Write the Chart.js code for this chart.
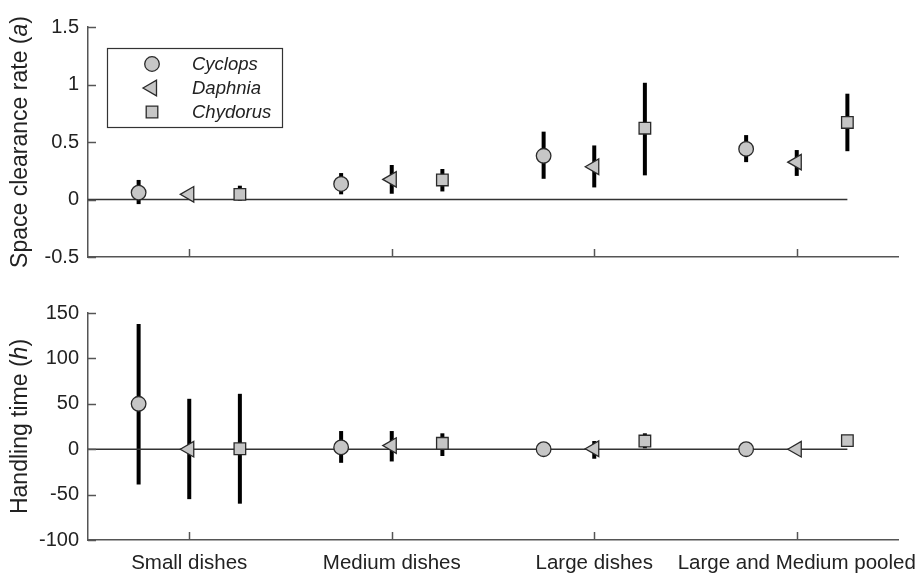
<!DOCTYPE html>
<html><head><meta charset="utf-8">
<script src="https://cdn.jsdelivr.net/npm/chart.js@4/dist/chart.umd.min.js"></script>
<style>
html,body{margin:0;padding:0;background:#fff;}
#wrap{position:relative;width:918px;height:573px;overflow:hidden;}
#c1{position:absolute;left:0;top:0;}
#c2{position:absolute;left:0;top:280px;}
</style></head><body>
<div id="wrap"><canvas id="c1" width="918" height="280"></canvas><canvas id="c2" width="918" height="293"></canvas></div>
<script>
// ---- data ----
const categories = ['Small dishes', 'Medium dishes', 'Large dishes', 'Large and Medium pooled'];
const species = ['Cyclops', 'Daphnia', 'Chydorus'];
const aTicks = [-0.5, 0, 0.5, 1, 1.5];
const hTicks = [-100, -50, 0, 50, 100, 150];

// Space clearance rate (a): estimate, lower, upper
const aCyclops      = [0.06, 0.135, 0.38, 0.44];
const aCyclopsLow   = [-0.04, 0.045, 0.18, 0.325];
const aCyclopsHigh  = [0.17, 0.23, 0.59, 0.56];
const aDaphnia      = [0.045, 0.175, 0.285, 0.325];
const aDaphniaLow   = [0.035, 0.05, 0.105, 0.205];
const aDaphniaHigh  = [0.055, 0.30, 0.47, 0.43];
const aChydorus     = [0.045, 0.17, 0.62, 0.67];
const aChydorusLow  = [-0.01, 0.07, 0.21, 0.42];
const aChydorusHigh = [0.12, 0.265, 1.015, 0.92];

// Handling time (h): estimate, lower, upper
const hCyclops      = [50, 2, 0, 0];
const hCyclopsLow   = [-39, -15, -2, -1];
const hCyclopsHigh  = [138, 20, 2, 1];
const hDaphnia      = [0, 4, 0.5, 0];
const hDaphniaLow   = [-55, -13.5, -10.5, -1];
const hDaphniaHigh  = [55.5, 20, 9, 1];
const hChydorus     = [0.5, 6.5, 9, 9.5];
const hChydorusLow  = [-60, -7.5, 1, 5];
const hChydorusHigh = [61, 17.5, 17.5, 14];

// ---- styling ----
const FONT = "'Liberation Sans', Arial, Helvetica, sans-serif";
const offsets = [-0.25, 0, 0.25];
const markerStyles = [
  {pointStyle: 'circle', radius: 7.3, rotation: 0},
  {pointStyle: 'triangle', radius: 9, rotation: 270},
  {pointStyle: 'rect', radius: 8.2, rotation: 0}
];
const FILL = '#c6c6c6', EDGE = '#2a2a2a', AXIS = '#555555';

function buildDatasets(series) {
  const ds = series.map((s, k) => ({
    type: 'scatter',
    label: species[k],
    data: categories.map((c, i) => ({x: i + 1 + offsets[k], y: s.v[i], lo: s.lo[i], hi: s.hi[i]})),
    pointStyle: markerStyles[k].pointStyle,
    pointRadius: markerStyles[k].radius,
    pointRotation: markerStyles[k].rotation,
    pointBackgroundColor: FILL,
    pointBorderColor: EDGE,
    pointBorderWidth: 1.3,
    pointHoverRadius: markerStyles[k].radius,
    order: 1
  }));
  ds.push({
    type: 'line', label: 'zero',
    data: [{x: 0.5, y: 0}, {x: 4 + offsets[2], y: 0}],
    borderColor: '#333', borderWidth: 1.5, pointRadius: 0, order: 10, isZero: true
  });
  return ds;
}

const errorBars = {
  id: 'errorBars',
  beforeDatasetsDraw(chart) {
    const ctx = chart.ctx, ys = chart.scales.y;
    ctx.save();
    ctx.strokeStyle = '#000'; ctx.lineWidth = 4; ctx.lineCap = 'butt';
    chart.data.datasets.forEach((d, di) => {
      if (d.isZero) return;
      const meta = chart.getDatasetMeta(di);
      meta.data.forEach((el, i) => {
        const r = d.data[i];
        ctx.beginPath();
        ctx.moveTo(el.x, ys.getPixelForValue(r.lo));
        ctx.lineTo(el.x, ys.getPixelForValue(r.hi));
        ctx.stroke();
      });
    });
    ctx.restore();
  }
};

const innerTicks = {
  id: 'innerTicks',
  afterDraw(chart) {
    const ctx = chart.ctx, a = chart.chartArea, xs = chart.scales.x, ys = chart.scales.y;
    ctx.save();
    ctx.strokeStyle = AXIS; ctx.lineWidth = 1.5;
    ys.ticks.forEach(t => {
      const p = Math.round(ys.getPixelForValue(t.value)) + 0.5;
      ctx.beginPath(); ctx.moveTo(a.left, p); ctx.lineTo(a.left + 8, p); ctx.stroke();
    });
    xs.ticks.forEach(t => {
      const p = Math.round(xs.getPixelForValue(t.value)) + 0.5;
      ctx.beginPath(); ctx.moveTo(p, a.bottom); ctx.lineTo(p, a.bottom - 8); ctx.stroke();
    });
    ctx.restore();
  }
};

const yTitle = {
  id: 'yTitle',
  afterDraw(chart, args, opts) {
    const ctx = chart.ctx, a = chart.chartArea;
    const parts = opts.parts;
    ctx.save();
    ctx.fillStyle = '#222';
    ctx.textBaseline = 'middle';
    ctx.textAlign = 'left';
    const fontN = '23px ' + FONT, fontI = 'italic 23px ' + FONT;
    let total = 0;
    parts.forEach(p => { ctx.font = p.italic ? fontI : fontN; total += ctx.measureText(p.text).width; });
    ctx.translate(opts.x, (a.top + a.bottom) / 2);
    ctx.rotate(-Math.PI / 2);
    let x = -total / 2;
    parts.forEach(p => { ctx.font = p.italic ? fontI : fontN; ctx.fillText(p.text, x, 0); x += ctx.measureText(p.text).width; });
    ctx.restore();
  }
};

const boxLegend = {
  id: 'boxLegend',
  afterDraw(chart, args, opts) {
    if (!opts.show) return;
    const ctx = chart.ctx;
    ctx.save();
    ctx.strokeStyle = '#333'; ctx.lineWidth = 1.2;
    ctx.strokeRect(107.5, 48.5, 175, 79);
    const items = chart.data.datasets.filter(d => !d.isZero);
    items.forEach((d, k) => {
      const y = 64 + k * 24;
      ctx.fillStyle = FILL; ctx.strokeStyle = EDGE; ctx.lineWidth = 1.3;
      Chart.helpers.drawPoint(ctx, {pointStyle: d.pointStyle, radius: d.pointRadius, rotation: d.pointRotation, borderWidth: 1.3}, 152, y);
      ctx.fillStyle = '#222';
      ctx.font = 'italic 18.5px ' + FONT;
      ctx.textBaseline = 'middle'; ctx.textAlign = 'left';
      ctx.fillText(d.label, 192, y + 1);
    });
    ctx.restore();
  }
};

function makeChart(canvas, datasets, ticks, opts) {
  return new Chart(canvas, {
    data: {datasets},
    options: {
      responsive: false, animation: false, events: [],
      layout: {padding: {left: 0, right: 20, top: opts.padTop, bottom: 0}},
      plugins: {
        legend: {display: false}, tooltip: {enabled: false},
        yTitle: {parts: opts.title, x: 21},
        boxLegend: {show: opts.legend}
      },
      scales: {
        x: {
          type: 'linear', min: 0.5, max: 4.5,
          grid: {display: false, drawTicks: false},
          border: {display: true, color: AXIS, width: 1.5},
          afterBuildTicks: s => { s.ticks = categories.map((c, i) => ({value: i + 1})); },
          afterFit: s => { s.height = opts.xHeight; s.paddingLeft = 0; s.paddingRight = 0; },
          ticks: {
            display: opts.xLabels, autoSkip: false, maxRotation: 0, padding: 11,
            color: '#222', font: {family: FONT, size: 20.5},
            callback: v => categories[Math.round(v) - 1]
          }
        },
        y: {
          type: 'linear', min: ticks[0], max: ticks[ticks.length - 1],
          grid: {display: false, drawTicks: false},
          border: {display: true, color: AXIS, width: 1.5},
          afterBuildTicks: s => { s.ticks = ticks.map(v => ({value: v})); },
          afterFit: s => { s.width = 88; s.paddingTop = 0; s.paddingBottom = 0; },
          ticks: {padding: 9, color: '#222', font: {family: FONT, size: 20}, callback: v => String(v)}
        }
      }
    },
    plugins: [errorBars, innerTicks, yTitle, boxLegend]
  });
}

makeChart(document.getElementById('c1'),
  buildDatasets([
    {v: aCyclops, lo: aCyclopsLow, hi: aCyclopsHigh},
    {v: aDaphnia, lo: aDaphniaLow, hi: aDaphniaHigh},
    {v: aChydorus, lo: aChydorusLow, hi: aChydorusHigh}
  ]), aTicks,
  {padTop: 27, xHeight: 23, xLabels: false, legend: true,
   title: [{text: 'Space clearance rate ('}, {text: 'a', italic: true}, {text: ')'}]});

makeChart(document.getElementById('c2'),
  buildDatasets([
    {v: hCyclops, lo: hCyclopsLow, hi: hCyclopsHigh},
    {v: hDaphnia, lo: hDaphniaLow, hi: hDaphniaHigh},
    {v: hChydorus, lo: hChydorusLow, hi: hChydorusHigh}
  ]), hTicks,
  {padTop: 33, xHeight: 33, xLabels: true, legend: false,
   title: [{text: 'Handling time ('}, {text: 'h', italic: true}, {text: ')'}]});
</script>
</body></html>
